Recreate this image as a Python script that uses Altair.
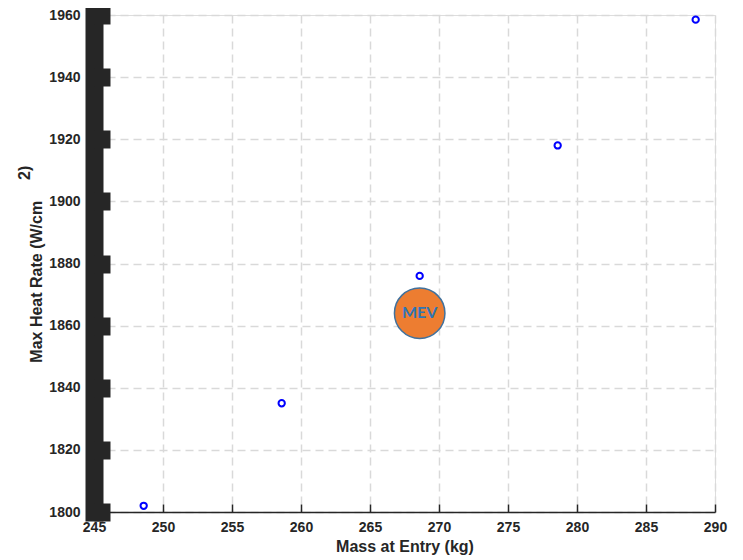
import altair as alt
import pandas as pd

mass = [248.6, 258.6, 268.6, 278.6, 288.6]
heat = [1802, 1835, 1876, 1918, 1958.5]
mev_mass = [268.6]
mev_heat = [1864]
mev_label = ["MEV"]

df = pd.DataFrame({"mass": mass, "heat": heat})
dm = pd.DataFrame({"mass": mev_mass, "heat": mev_heat, "label": mev_label})

FONT = "Liberation Sans"
DARK = "#262626"
xs = alt.Scale(domain=[245, 290], nice=False, zero=False)
ys = alt.Scale(domain=[1800, 1960], nice=False, zero=False)

nb = "\u00a0"
zw = "\u200b"
ytitle = [zw + nb * 41 + "2)" + zw, zw + "Max Heat Rate (W/cm" + nb * 8 + zw]

x_main = alt.Axis(orient="bottom", values=list(range(245, 291, 5)), domain=True,
                  domainColor=DARK, domainWidth=1.5, ticks=False, labelPadding=8,
                  labelFont=FONT, labelFontSize=14, labelFontWeight="bold", labelColor=DARK,
                  title="Mass at Entry (kg)", titleFont=FONT, titleFontSize=16,
                  titleFontWeight="bold", titleColor=DARK, titlePadding=4,
                  grid=True, gridColor="#d9d9d9", gridDash=[8, 5], gridWidth=1.5,
                  labelFlush=False, format="d")
y_main = alt.Axis(orient="left", values=list(range(1800, 1961, 20)), domain=True,
                  domainColor=DARK, domainWidth=18, domainCap="square", ticks=False,
                  labelPadding=14, labelFont=FONT, labelFontSize=14, labelFontWeight="bold",
                  labelColor=DARK, title=ytitle, titleFont=FONT, titleFontSize=16,
                  titleFontWeight="bold", titleColor=DARK, titlePadding=4, titleLimit=600,
                  titleLineHeight=12,
                  grid=True, gridColor="#d9d9d9", gridDash=[8, 5], gridWidth=1.5,
                  labelFlush=False, format="d")
x_ticks = alt.Axis(orient="bottom", offset=-8, values=list(range(245, 291, 5)), domain=False,
                   ticks=True, tickSize=8, tickWidth=1.5, tickColor=DARK, labels=False,
                   title=None, grid=False)
y_ticks = alt.Axis(orient="left", offset=-16, values=list(range(1800, 1961, 20)), domain=False,
                   ticks=True, tickSize=16, tickWidth=18, tickColor=DARK, labels=False,
                   title=None, grid=False)

pts = alt.Chart(df).mark_point(filled=False, color="#0000ff", strokeWidth=2, size=40, opacity=1).encode(
    x=alt.X("mass:Q", scale=xs, axis=x_main),
    y=alt.Y("heat:Q", scale=ys, axis=y_main),
)

circ = alt.Chart(dm).mark_circle(size=2550, color="#ED7D31", opacity=1, stroke="#41719C", strokeWidth=1.5).encode(
    x=alt.X("mass:Q", scale=xs, axis=x_ticks),
    y=alt.Y("heat:Q", scale=ys, axis=y_ticks),
)
txt = alt.Chart(dm).mark_text(font="Lato", fontSize=16, fontWeight="bold", color="#2E75B6").encode(
    x=alt.X("mass:Q", scale=xs, axis=x_ticks),
    y=alt.Y("heat:Q", scale=ys, axis=y_ticks),
    text="label:N",
)

layer2 = alt.layer(circ, txt)

chart = alt.layer(pts, layer2).resolve_axis(x="independent", y="independent").properties(
    width=621, height=497,
    padding={"left": 86, "top": 7, "right": 20, "bottom": 48},
    autosize=alt.AutoSizeParams(type="none"),
).configure_view(stroke=None).configure(background="white").configure_axis(
    titleFontSize=16, titleFont=FONT, titleFontWeight="bold"
)

chart.save("out.html", embed_options={"renderer": "svg", "actions": False})
